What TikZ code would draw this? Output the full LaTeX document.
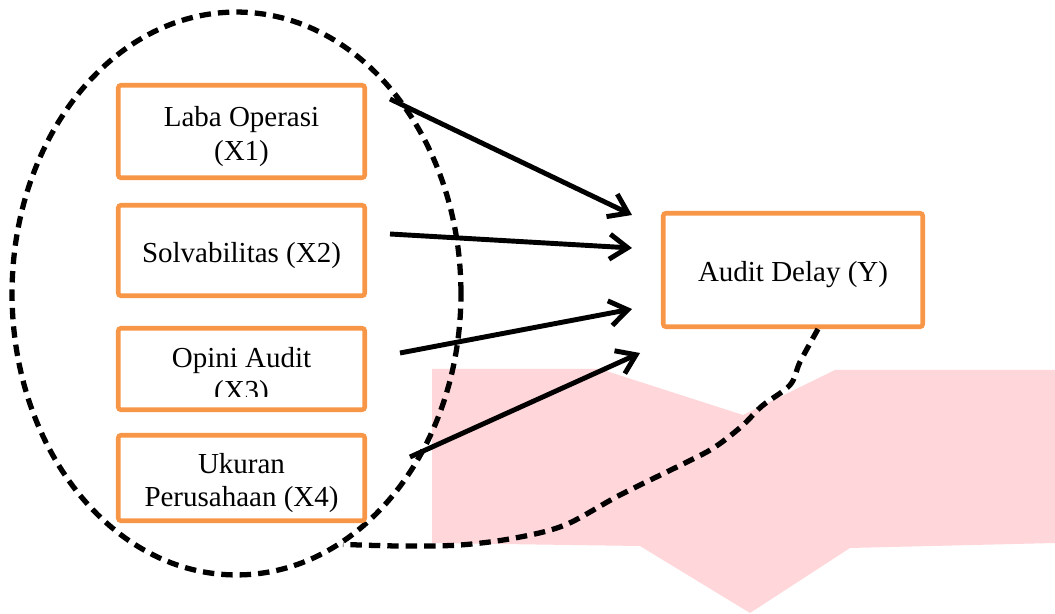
\documentclass[tikz,border=0pt]{standalone}
\usepackage{fontspec}
\setmainfont{Liberation Serif}
\usetikzlibrary{shapes.geometric, arrows.meta, calc}
\definecolor{boxorange}{RGB}{247,150,70}
\definecolor{pinkmark}{RGB}{255,214,218}
\tikzset{
  varbox/.style={draw=boxorange, line width=2.6pt, rounded corners=1.5pt,
                 align=center, inner sep=0pt, minimum width=4.93cm,
                 font=\fontsize{16.5}{19}\selectfont},
  onebox/.style={varbox, text height=17pt},
  twobox/.style={varbox, text height=36pt},
  linkarrow/.style={line width=2.8pt, -{Straight Barb[length=0.36cm, width=0.5cm]}},
  dashline/.style={line width=3pt, dash pattern=on 6.5pt off 4pt}
}

\begin{document}
\begin{tikzpicture}[x=0.02cm, y=-0.02cm]
        \useasboundingbox (0,0) rectangle (1055,614);

        \fill[pinkmark] (432,369) -- (600,369) -- (743,415) -- (835,370) -- (1055,370)
          -- (1055,543) -- (850,548) -- (750,613) -- (640,546) -- (432,543) -- cycle;

        \node[ellipse, draw, dashline, inner sep=0pt,
              minimum width=8.98cm, minimum height=11.26cm] (grp) at (236.5,293.5) {};

        \node[twobox, minimum height=1.85cm] (x1) at (241.5,131.5) {Laba Operasi\\(X1)};
        \node[onebox, minimum height=1.81cm] (x2) at (241.5,250.5) {Solvabilitas (X2)};
        \node[varbox, minimum height=1.63cm] (x3) at (241.5,369) {};
        \begin{scope}
          \clip (110,320) rectangle (380,397);
          \node[align=center, font=\fontsize{16.5}{19}\selectfont] (x3text) at (241.5,377) {Opini Audit\\(X3)};
        \end{scope}
        \node[twobox, minimum height=1.71cm] (x4) at (241.5,478) {Ukuran\\Perusahaan (X4)};

        \node[onebox, minimum width=5.19cm, minimum height=2.27cm] (y) at (793,270) {Audit Delay (Y)};

        \coordinate (t1) at (390,99);
        \coordinate (t2) at (390,234);
        \coordinate (t3) at (400,353);
        \coordinate (t4) at (410,457);
        \coordinate (h1) at (632,215);
        \coordinate (h2) at (632,248);
        \coordinate (h3) at (632,309);
        \coordinate (h4) at (640,353);
        \draw[linkarrow] (t1) -- (h1);
        \draw[linkarrow] (t2) -- (h2);
        \draw[linkarrow] (t3) -- (h3);
        \draw[linkarrow] (t4) -- (h4);

        \coordinate (ys) at ($(y.south)+(25,0)$);
        \coordinate (ge) at (grp.-67.5);
        \draw[dashline] plot[smooth, tension=0.55] coordinates {(ys) (800,362) (790,385) (762,406)
          (742,426) (715,447) (687,462) (620,495) (565,525) (515,538) (460,545) (400,546) (ge)};
      \end{tikzpicture}
\end{document}
